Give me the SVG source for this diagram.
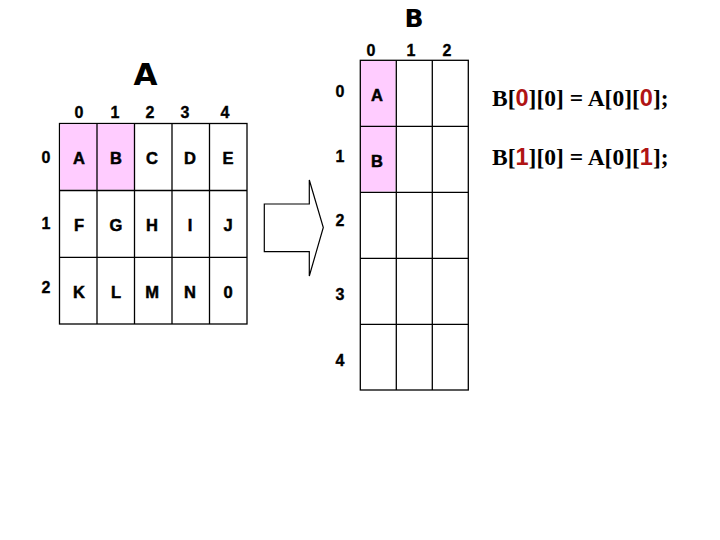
<svg xmlns="http://www.w3.org/2000/svg" width="720" height="540" viewBox="0 0 720 540">
<style>
.cell{fill:#fff;stroke:#000;stroke-width:1.3}
.pk{fill:#FFCCFF}
.lbl{font-family:"Liberation Sans",Arial,sans-serif;font-weight:bold;font-size:16px;fill:#000;stroke:#000;stroke-width:0.35;text-anchor:middle}
.let{font-family:"Liberation Sans",Arial,sans-serif;font-weight:bold;font-size:16.5px;fill:#000;stroke:#000;stroke-width:0.5;text-anchor:middle}
.ttl{font-family:"DejaVu Sans","Liberation Sans",sans-serif;font-weight:bold;fill:#000;text-anchor:middle}
.eq{font-family:"Liberation Serif","Times New Roman",serif;font-weight:bold;font-size:23.5px;fill:#000}
.red{font-family:"Liberation Sans",Arial,sans-serif;fill:#B01414}
</style>
<rect width="720" height="540" fill="#fff"/>
<g id="title-A"><text class="ttl" x="145.5" y="85" font-size="31">A</text></g>
<g id="title-B"><text class="ttl" x="414" y="27" font-size="25">B</text></g>

<g id="array-A">
<rect class="cell" x="59.5" y="123.5" width="187.5" height="200.5"/>
<rect class="pk" x="60.2" y="124.2" width="74" height="65.6"/>
<g stroke="#000" stroke-width="1.3">
<line x1="97" y1="123.5" x2="97" y2="324"/>
<line x1="134.5" y1="123.5" x2="134.5" y2="324"/>
<line x1="172" y1="123.5" x2="172" y2="324"/>
<line x1="209.5" y1="123.5" x2="209.5" y2="324"/>
<line x1="59.5" y1="190.5" x2="247" y2="190.5"/>
<line x1="59.5" y1="257.3" x2="247" y2="257.3"/>
</g>
<g class="lbl">
<text x="79" y="118">0</text><text x="115" y="118">1</text><text x="150" y="118">2</text><text x="185" y="118">3</text><text x="225" y="118">4</text>
<text x="46" y="163">0</text><text x="46" y="229">1</text><text x="46" y="293">2</text>
</g>
<g class="let">
<text x="79" y="164">A</text><text x="116" y="164">B</text><text x="152" y="164">C</text><text x="190" y="164">D</text><text x="228" y="164">E</text>
<text x="79" y="231">F</text><text x="116" y="231">G</text><text x="152" y="231">H</text><text x="190" y="231">I</text><text x="228" y="231">J</text>
<text x="79" y="298">K</text><text x="116" y="298">L</text><text x="152" y="298">M</text><text x="190" y="298">N</text><text x="228" y="298">0</text>
</g>
</g>

<g id="array-B">
<rect class="cell" x="360.3" y="60.3" width="108" height="329.7"/>
<rect class="pk" x="361" y="61" width="34.6" height="130.6"/>
<g stroke="#000" stroke-width="1.3">
<line x1="396.3" y1="60.3" x2="396.3" y2="390"/>
<line x1="432.3" y1="60.3" x2="432.3" y2="390"/>
<line x1="360.3" y1="126.3" x2="468.3" y2="126.3"/>
<line x1="360.3" y1="192.3" x2="468.3" y2="192.3"/>
<line x1="360.3" y1="258.3" x2="468.3" y2="258.3"/>
<line x1="360.3" y1="324.3" x2="468.3" y2="324.3"/>
</g>
<g class="lbl">
<text x="371" y="56">0</text><text x="411" y="56">1</text><text x="447" y="56">2</text>
<text x="340" y="97">0</text><text x="340" y="162">1</text><text x="340" y="226">2</text><text x="340" y="300">3</text><text x="340" y="366">4</text>
</g>
<g class="let">
<text x="377" y="101">A</text><text x="377" y="167">B</text>
</g>
</g>

<g id="connectors">
<polygon points="264.3,204 309.3,204 309.3,180 323.3,227.5 309.3,276 309.3,251.7 264.3,251.7" fill="#fff" stroke="#000" stroke-width="1.2"/>
</g>

<g id="equations">
<text class="eq" x="492" y="106">B[<tspan class="red">0</tspan>][0] = A[0][<tspan class="red">0</tspan>];</text>
<text class="eq" x="492" y="165">B[<tspan class="red">1</tspan>][0] = A[0][<tspan class="red">1</tspan>];</text>
</g>
</svg>
